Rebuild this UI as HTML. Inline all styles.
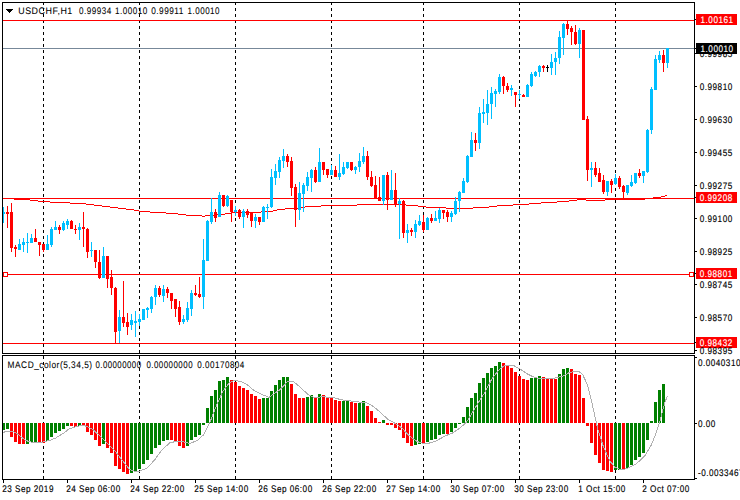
<!DOCTYPE html>
<html><head><meta charset="utf-8"><style>
html,body{margin:0;padding:0;background:#fff;}
svg{display:block;}
text{text-rendering:geometricPrecision;}
text{font-family:"Liberation Sans",sans-serif;}
</style></head><body>
<svg width="740" height="500" viewBox="0 0 740 500">
<rect x="0" y="0" width="740" height="500" fill="#fff"/>
<g shape-rendering="crispEdges">
<rect x="43" y="3" width="1" height="2" fill="#000"/>
<rect x="43" y="8" width="1" height="3" fill="#000"/>
<rect x="43" y="14" width="1" height="3" fill="#000"/>
<rect x="43" y="20" width="1" height="3" fill="#000"/>
<rect x="43" y="26" width="1" height="3" fill="#000"/>
<rect x="43" y="32" width="1" height="3" fill="#000"/>
<rect x="43" y="38" width="1" height="3" fill="#000"/>
<rect x="43" y="44" width="1" height="3" fill="#000"/>
<rect x="43" y="50" width="1" height="3" fill="#000"/>
<rect x="43" y="56" width="1" height="3" fill="#000"/>
<rect x="43" y="62" width="1" height="3" fill="#000"/>
<rect x="43" y="68" width="1" height="3" fill="#000"/>
<rect x="43" y="74" width="1" height="3" fill="#000"/>
<rect x="43" y="80" width="1" height="3" fill="#000"/>
<rect x="43" y="86" width="1" height="3" fill="#000"/>
<rect x="43" y="92" width="1" height="3" fill="#000"/>
<rect x="43" y="98" width="1" height="3" fill="#000"/>
<rect x="43" y="104" width="1" height="3" fill="#000"/>
<rect x="43" y="110" width="1" height="3" fill="#000"/>
<rect x="43" y="116" width="1" height="3" fill="#000"/>
<rect x="43" y="122" width="1" height="3" fill="#000"/>
<rect x="43" y="128" width="1" height="3" fill="#000"/>
<rect x="43" y="134" width="1" height="3" fill="#000"/>
<rect x="43" y="140" width="1" height="3" fill="#000"/>
<rect x="43" y="146" width="1" height="3" fill="#000"/>
<rect x="43" y="152" width="1" height="3" fill="#000"/>
<rect x="43" y="158" width="1" height="3" fill="#000"/>
<rect x="43" y="164" width="1" height="3" fill="#000"/>
<rect x="43" y="170" width="1" height="3" fill="#000"/>
<rect x="43" y="176" width="1" height="3" fill="#000"/>
<rect x="43" y="182" width="1" height="3" fill="#000"/>
<rect x="43" y="188" width="1" height="3" fill="#000"/>
<rect x="43" y="194" width="1" height="3" fill="#000"/>
<rect x="43" y="200" width="1" height="3" fill="#000"/>
<rect x="43" y="206" width="1" height="3" fill="#000"/>
<rect x="43" y="212" width="1" height="3" fill="#000"/>
<rect x="43" y="218" width="1" height="3" fill="#000"/>
<rect x="43" y="224" width="1" height="3" fill="#000"/>
<rect x="43" y="230" width="1" height="3" fill="#000"/>
<rect x="43" y="236" width="1" height="3" fill="#000"/>
<rect x="43" y="242" width="1" height="3" fill="#000"/>
<rect x="43" y="248" width="1" height="3" fill="#000"/>
<rect x="43" y="254" width="1" height="3" fill="#000"/>
<rect x="43" y="260" width="1" height="3" fill="#000"/>
<rect x="43" y="266" width="1" height="3" fill="#000"/>
<rect x="43" y="272" width="1" height="3" fill="#000"/>
<rect x="43" y="278" width="1" height="3" fill="#000"/>
<rect x="43" y="284" width="1" height="3" fill="#000"/>
<rect x="43" y="290" width="1" height="3" fill="#000"/>
<rect x="43" y="296" width="1" height="3" fill="#000"/>
<rect x="43" y="302" width="1" height="3" fill="#000"/>
<rect x="43" y="308" width="1" height="3" fill="#000"/>
<rect x="43" y="314" width="1" height="3" fill="#000"/>
<rect x="43" y="320" width="1" height="3" fill="#000"/>
<rect x="43" y="326" width="1" height="3" fill="#000"/>
<rect x="43" y="332" width="1" height="3" fill="#000"/>
<rect x="43" y="338" width="1" height="3" fill="#000"/>
<rect x="43" y="344" width="1" height="3" fill="#000"/>
<rect x="43" y="350" width="1" height="3" fill="#000"/>
<rect x="43" y="356" width="1" height="3" fill="#000"/>
<rect x="43" y="362" width="1" height="3" fill="#000"/>
<rect x="43" y="368" width="1" height="3" fill="#000"/>
<rect x="43" y="374" width="1" height="3" fill="#000"/>
<rect x="43" y="380" width="1" height="3" fill="#000"/>
<rect x="43" y="386" width="1" height="3" fill="#000"/>
<rect x="43" y="392" width="1" height="3" fill="#000"/>
<rect x="43" y="398" width="1" height="3" fill="#000"/>
<rect x="43" y="404" width="1" height="3" fill="#000"/>
<rect x="43" y="410" width="1" height="3" fill="#000"/>
<rect x="43" y="416" width="1" height="3" fill="#000"/>
<rect x="43" y="422" width="1" height="3" fill="#000"/>
<rect x="43" y="428" width="1" height="3" fill="#000"/>
<rect x="43" y="434" width="1" height="3" fill="#000"/>
<rect x="43" y="440" width="1" height="3" fill="#000"/>
<rect x="43" y="446" width="1" height="3" fill="#000"/>
<rect x="43" y="452" width="1" height="3" fill="#000"/>
<rect x="43" y="458" width="1" height="3" fill="#000"/>
<rect x="43" y="464" width="1" height="3" fill="#000"/>
<rect x="43" y="470" width="1" height="3" fill="#000"/>
<rect x="43" y="476" width="1" height="3" fill="#000"/>
<rect x="139" y="3" width="1" height="2" fill="#000"/>
<rect x="139" y="8" width="1" height="3" fill="#000"/>
<rect x="139" y="14" width="1" height="3" fill="#000"/>
<rect x="139" y="20" width="1" height="3" fill="#000"/>
<rect x="139" y="26" width="1" height="3" fill="#000"/>
<rect x="139" y="32" width="1" height="3" fill="#000"/>
<rect x="139" y="38" width="1" height="3" fill="#000"/>
<rect x="139" y="44" width="1" height="3" fill="#000"/>
<rect x="139" y="50" width="1" height="3" fill="#000"/>
<rect x="139" y="56" width="1" height="3" fill="#000"/>
<rect x="139" y="62" width="1" height="3" fill="#000"/>
<rect x="139" y="68" width="1" height="3" fill="#000"/>
<rect x="139" y="74" width="1" height="3" fill="#000"/>
<rect x="139" y="80" width="1" height="3" fill="#000"/>
<rect x="139" y="86" width="1" height="3" fill="#000"/>
<rect x="139" y="92" width="1" height="3" fill="#000"/>
<rect x="139" y="98" width="1" height="3" fill="#000"/>
<rect x="139" y="104" width="1" height="3" fill="#000"/>
<rect x="139" y="110" width="1" height="3" fill="#000"/>
<rect x="139" y="116" width="1" height="3" fill="#000"/>
<rect x="139" y="122" width="1" height="3" fill="#000"/>
<rect x="139" y="128" width="1" height="3" fill="#000"/>
<rect x="139" y="134" width="1" height="3" fill="#000"/>
<rect x="139" y="140" width="1" height="3" fill="#000"/>
<rect x="139" y="146" width="1" height="3" fill="#000"/>
<rect x="139" y="152" width="1" height="3" fill="#000"/>
<rect x="139" y="158" width="1" height="3" fill="#000"/>
<rect x="139" y="164" width="1" height="3" fill="#000"/>
<rect x="139" y="170" width="1" height="3" fill="#000"/>
<rect x="139" y="176" width="1" height="3" fill="#000"/>
<rect x="139" y="182" width="1" height="3" fill="#000"/>
<rect x="139" y="188" width="1" height="3" fill="#000"/>
<rect x="139" y="194" width="1" height="3" fill="#000"/>
<rect x="139" y="200" width="1" height="3" fill="#000"/>
<rect x="139" y="206" width="1" height="3" fill="#000"/>
<rect x="139" y="212" width="1" height="3" fill="#000"/>
<rect x="139" y="218" width="1" height="3" fill="#000"/>
<rect x="139" y="224" width="1" height="3" fill="#000"/>
<rect x="139" y="230" width="1" height="3" fill="#000"/>
<rect x="139" y="236" width="1" height="3" fill="#000"/>
<rect x="139" y="242" width="1" height="3" fill="#000"/>
<rect x="139" y="248" width="1" height="3" fill="#000"/>
<rect x="139" y="254" width="1" height="3" fill="#000"/>
<rect x="139" y="260" width="1" height="3" fill="#000"/>
<rect x="139" y="266" width="1" height="3" fill="#000"/>
<rect x="139" y="272" width="1" height="3" fill="#000"/>
<rect x="139" y="278" width="1" height="3" fill="#000"/>
<rect x="139" y="284" width="1" height="3" fill="#000"/>
<rect x="139" y="290" width="1" height="3" fill="#000"/>
<rect x="139" y="296" width="1" height="3" fill="#000"/>
<rect x="139" y="302" width="1" height="3" fill="#000"/>
<rect x="139" y="308" width="1" height="3" fill="#000"/>
<rect x="139" y="314" width="1" height="3" fill="#000"/>
<rect x="139" y="320" width="1" height="3" fill="#000"/>
<rect x="139" y="326" width="1" height="3" fill="#000"/>
<rect x="139" y="332" width="1" height="3" fill="#000"/>
<rect x="139" y="338" width="1" height="3" fill="#000"/>
<rect x="139" y="344" width="1" height="3" fill="#000"/>
<rect x="139" y="350" width="1" height="3" fill="#000"/>
<rect x="139" y="356" width="1" height="3" fill="#000"/>
<rect x="139" y="362" width="1" height="3" fill="#000"/>
<rect x="139" y="368" width="1" height="3" fill="#000"/>
<rect x="139" y="374" width="1" height="3" fill="#000"/>
<rect x="139" y="380" width="1" height="3" fill="#000"/>
<rect x="139" y="386" width="1" height="3" fill="#000"/>
<rect x="139" y="392" width="1" height="3" fill="#000"/>
<rect x="139" y="398" width="1" height="3" fill="#000"/>
<rect x="139" y="404" width="1" height="3" fill="#000"/>
<rect x="139" y="410" width="1" height="3" fill="#000"/>
<rect x="139" y="416" width="1" height="3" fill="#000"/>
<rect x="139" y="422" width="1" height="3" fill="#000"/>
<rect x="139" y="428" width="1" height="3" fill="#000"/>
<rect x="139" y="434" width="1" height="3" fill="#000"/>
<rect x="139" y="440" width="1" height="3" fill="#000"/>
<rect x="139" y="446" width="1" height="3" fill="#000"/>
<rect x="139" y="452" width="1" height="3" fill="#000"/>
<rect x="139" y="458" width="1" height="3" fill="#000"/>
<rect x="139" y="464" width="1" height="3" fill="#000"/>
<rect x="139" y="470" width="1" height="3" fill="#000"/>
<rect x="139" y="476" width="1" height="3" fill="#000"/>
<rect x="235" y="3" width="1" height="2" fill="#000"/>
<rect x="235" y="8" width="1" height="3" fill="#000"/>
<rect x="235" y="14" width="1" height="3" fill="#000"/>
<rect x="235" y="20" width="1" height="3" fill="#000"/>
<rect x="235" y="26" width="1" height="3" fill="#000"/>
<rect x="235" y="32" width="1" height="3" fill="#000"/>
<rect x="235" y="38" width="1" height="3" fill="#000"/>
<rect x="235" y="44" width="1" height="3" fill="#000"/>
<rect x="235" y="50" width="1" height="3" fill="#000"/>
<rect x="235" y="56" width="1" height="3" fill="#000"/>
<rect x="235" y="62" width="1" height="3" fill="#000"/>
<rect x="235" y="68" width="1" height="3" fill="#000"/>
<rect x="235" y="74" width="1" height="3" fill="#000"/>
<rect x="235" y="80" width="1" height="3" fill="#000"/>
<rect x="235" y="86" width="1" height="3" fill="#000"/>
<rect x="235" y="92" width="1" height="3" fill="#000"/>
<rect x="235" y="98" width="1" height="3" fill="#000"/>
<rect x="235" y="104" width="1" height="3" fill="#000"/>
<rect x="235" y="110" width="1" height="3" fill="#000"/>
<rect x="235" y="116" width="1" height="3" fill="#000"/>
<rect x="235" y="122" width="1" height="3" fill="#000"/>
<rect x="235" y="128" width="1" height="3" fill="#000"/>
<rect x="235" y="134" width="1" height="3" fill="#000"/>
<rect x="235" y="140" width="1" height="3" fill="#000"/>
<rect x="235" y="146" width="1" height="3" fill="#000"/>
<rect x="235" y="152" width="1" height="3" fill="#000"/>
<rect x="235" y="158" width="1" height="3" fill="#000"/>
<rect x="235" y="164" width="1" height="3" fill="#000"/>
<rect x="235" y="170" width="1" height="3" fill="#000"/>
<rect x="235" y="176" width="1" height="3" fill="#000"/>
<rect x="235" y="182" width="1" height="3" fill="#000"/>
<rect x="235" y="188" width="1" height="3" fill="#000"/>
<rect x="235" y="194" width="1" height="3" fill="#000"/>
<rect x="235" y="200" width="1" height="3" fill="#000"/>
<rect x="235" y="206" width="1" height="3" fill="#000"/>
<rect x="235" y="212" width="1" height="3" fill="#000"/>
<rect x="235" y="218" width="1" height="3" fill="#000"/>
<rect x="235" y="224" width="1" height="3" fill="#000"/>
<rect x="235" y="230" width="1" height="3" fill="#000"/>
<rect x="235" y="236" width="1" height="3" fill="#000"/>
<rect x="235" y="242" width="1" height="3" fill="#000"/>
<rect x="235" y="248" width="1" height="3" fill="#000"/>
<rect x="235" y="254" width="1" height="3" fill="#000"/>
<rect x="235" y="260" width="1" height="3" fill="#000"/>
<rect x="235" y="266" width="1" height="3" fill="#000"/>
<rect x="235" y="272" width="1" height="3" fill="#000"/>
<rect x="235" y="278" width="1" height="3" fill="#000"/>
<rect x="235" y="284" width="1" height="3" fill="#000"/>
<rect x="235" y="290" width="1" height="3" fill="#000"/>
<rect x="235" y="296" width="1" height="3" fill="#000"/>
<rect x="235" y="302" width="1" height="3" fill="#000"/>
<rect x="235" y="308" width="1" height="3" fill="#000"/>
<rect x="235" y="314" width="1" height="3" fill="#000"/>
<rect x="235" y="320" width="1" height="3" fill="#000"/>
<rect x="235" y="326" width="1" height="3" fill="#000"/>
<rect x="235" y="332" width="1" height="3" fill="#000"/>
<rect x="235" y="338" width="1" height="3" fill="#000"/>
<rect x="235" y="344" width="1" height="3" fill="#000"/>
<rect x="235" y="350" width="1" height="3" fill="#000"/>
<rect x="235" y="356" width="1" height="3" fill="#000"/>
<rect x="235" y="362" width="1" height="3" fill="#000"/>
<rect x="235" y="368" width="1" height="3" fill="#000"/>
<rect x="235" y="374" width="1" height="3" fill="#000"/>
<rect x="235" y="380" width="1" height="3" fill="#000"/>
<rect x="235" y="386" width="1" height="3" fill="#000"/>
<rect x="235" y="392" width="1" height="3" fill="#000"/>
<rect x="235" y="398" width="1" height="3" fill="#000"/>
<rect x="235" y="404" width="1" height="3" fill="#000"/>
<rect x="235" y="410" width="1" height="3" fill="#000"/>
<rect x="235" y="416" width="1" height="3" fill="#000"/>
<rect x="235" y="422" width="1" height="3" fill="#000"/>
<rect x="235" y="428" width="1" height="3" fill="#000"/>
<rect x="235" y="434" width="1" height="3" fill="#000"/>
<rect x="235" y="440" width="1" height="3" fill="#000"/>
<rect x="235" y="446" width="1" height="3" fill="#000"/>
<rect x="235" y="452" width="1" height="3" fill="#000"/>
<rect x="235" y="458" width="1" height="3" fill="#000"/>
<rect x="235" y="464" width="1" height="3" fill="#000"/>
<rect x="235" y="470" width="1" height="3" fill="#000"/>
<rect x="235" y="476" width="1" height="3" fill="#000"/>
<rect x="331" y="3" width="1" height="2" fill="#000"/>
<rect x="331" y="8" width="1" height="3" fill="#000"/>
<rect x="331" y="14" width="1" height="3" fill="#000"/>
<rect x="331" y="20" width="1" height="3" fill="#000"/>
<rect x="331" y="26" width="1" height="3" fill="#000"/>
<rect x="331" y="32" width="1" height="3" fill="#000"/>
<rect x="331" y="38" width="1" height="3" fill="#000"/>
<rect x="331" y="44" width="1" height="3" fill="#000"/>
<rect x="331" y="50" width="1" height="3" fill="#000"/>
<rect x="331" y="56" width="1" height="3" fill="#000"/>
<rect x="331" y="62" width="1" height="3" fill="#000"/>
<rect x="331" y="68" width="1" height="3" fill="#000"/>
<rect x="331" y="74" width="1" height="3" fill="#000"/>
<rect x="331" y="80" width="1" height="3" fill="#000"/>
<rect x="331" y="86" width="1" height="3" fill="#000"/>
<rect x="331" y="92" width="1" height="3" fill="#000"/>
<rect x="331" y="98" width="1" height="3" fill="#000"/>
<rect x="331" y="104" width="1" height="3" fill="#000"/>
<rect x="331" y="110" width="1" height="3" fill="#000"/>
<rect x="331" y="116" width="1" height="3" fill="#000"/>
<rect x="331" y="122" width="1" height="3" fill="#000"/>
<rect x="331" y="128" width="1" height="3" fill="#000"/>
<rect x="331" y="134" width="1" height="3" fill="#000"/>
<rect x="331" y="140" width="1" height="3" fill="#000"/>
<rect x="331" y="146" width="1" height="3" fill="#000"/>
<rect x="331" y="152" width="1" height="3" fill="#000"/>
<rect x="331" y="158" width="1" height="3" fill="#000"/>
<rect x="331" y="164" width="1" height="3" fill="#000"/>
<rect x="331" y="170" width="1" height="3" fill="#000"/>
<rect x="331" y="176" width="1" height="3" fill="#000"/>
<rect x="331" y="182" width="1" height="3" fill="#000"/>
<rect x="331" y="188" width="1" height="3" fill="#000"/>
<rect x="331" y="194" width="1" height="3" fill="#000"/>
<rect x="331" y="200" width="1" height="3" fill="#000"/>
<rect x="331" y="206" width="1" height="3" fill="#000"/>
<rect x="331" y="212" width="1" height="3" fill="#000"/>
<rect x="331" y="218" width="1" height="3" fill="#000"/>
<rect x="331" y="224" width="1" height="3" fill="#000"/>
<rect x="331" y="230" width="1" height="3" fill="#000"/>
<rect x="331" y="236" width="1" height="3" fill="#000"/>
<rect x="331" y="242" width="1" height="3" fill="#000"/>
<rect x="331" y="248" width="1" height="3" fill="#000"/>
<rect x="331" y="254" width="1" height="3" fill="#000"/>
<rect x="331" y="260" width="1" height="3" fill="#000"/>
<rect x="331" y="266" width="1" height="3" fill="#000"/>
<rect x="331" y="272" width="1" height="3" fill="#000"/>
<rect x="331" y="278" width="1" height="3" fill="#000"/>
<rect x="331" y="284" width="1" height="3" fill="#000"/>
<rect x="331" y="290" width="1" height="3" fill="#000"/>
<rect x="331" y="296" width="1" height="3" fill="#000"/>
<rect x="331" y="302" width="1" height="3" fill="#000"/>
<rect x="331" y="308" width="1" height="3" fill="#000"/>
<rect x="331" y="314" width="1" height="3" fill="#000"/>
<rect x="331" y="320" width="1" height="3" fill="#000"/>
<rect x="331" y="326" width="1" height="3" fill="#000"/>
<rect x="331" y="332" width="1" height="3" fill="#000"/>
<rect x="331" y="338" width="1" height="3" fill="#000"/>
<rect x="331" y="344" width="1" height="3" fill="#000"/>
<rect x="331" y="350" width="1" height="3" fill="#000"/>
<rect x="331" y="356" width="1" height="3" fill="#000"/>
<rect x="331" y="362" width="1" height="3" fill="#000"/>
<rect x="331" y="368" width="1" height="3" fill="#000"/>
<rect x="331" y="374" width="1" height="3" fill="#000"/>
<rect x="331" y="380" width="1" height="3" fill="#000"/>
<rect x="331" y="386" width="1" height="3" fill="#000"/>
<rect x="331" y="392" width="1" height="3" fill="#000"/>
<rect x="331" y="398" width="1" height="3" fill="#000"/>
<rect x="331" y="404" width="1" height="3" fill="#000"/>
<rect x="331" y="410" width="1" height="3" fill="#000"/>
<rect x="331" y="416" width="1" height="3" fill="#000"/>
<rect x="331" y="422" width="1" height="3" fill="#000"/>
<rect x="331" y="428" width="1" height="3" fill="#000"/>
<rect x="331" y="434" width="1" height="3" fill="#000"/>
<rect x="331" y="440" width="1" height="3" fill="#000"/>
<rect x="331" y="446" width="1" height="3" fill="#000"/>
<rect x="331" y="452" width="1" height="3" fill="#000"/>
<rect x="331" y="458" width="1" height="3" fill="#000"/>
<rect x="331" y="464" width="1" height="3" fill="#000"/>
<rect x="331" y="470" width="1" height="3" fill="#000"/>
<rect x="331" y="476" width="1" height="3" fill="#000"/>
<rect x="423" y="3" width="1" height="2" fill="#000"/>
<rect x="423" y="8" width="1" height="3" fill="#000"/>
<rect x="423" y="14" width="1" height="3" fill="#000"/>
<rect x="423" y="20" width="1" height="3" fill="#000"/>
<rect x="423" y="26" width="1" height="3" fill="#000"/>
<rect x="423" y="32" width="1" height="3" fill="#000"/>
<rect x="423" y="38" width="1" height="3" fill="#000"/>
<rect x="423" y="44" width="1" height="3" fill="#000"/>
<rect x="423" y="50" width="1" height="3" fill="#000"/>
<rect x="423" y="56" width="1" height="3" fill="#000"/>
<rect x="423" y="62" width="1" height="3" fill="#000"/>
<rect x="423" y="68" width="1" height="3" fill="#000"/>
<rect x="423" y="74" width="1" height="3" fill="#000"/>
<rect x="423" y="80" width="1" height="3" fill="#000"/>
<rect x="423" y="86" width="1" height="3" fill="#000"/>
<rect x="423" y="92" width="1" height="3" fill="#000"/>
<rect x="423" y="98" width="1" height="3" fill="#000"/>
<rect x="423" y="104" width="1" height="3" fill="#000"/>
<rect x="423" y="110" width="1" height="3" fill="#000"/>
<rect x="423" y="116" width="1" height="3" fill="#000"/>
<rect x="423" y="122" width="1" height="3" fill="#000"/>
<rect x="423" y="128" width="1" height="3" fill="#000"/>
<rect x="423" y="134" width="1" height="3" fill="#000"/>
<rect x="423" y="140" width="1" height="3" fill="#000"/>
<rect x="423" y="146" width="1" height="3" fill="#000"/>
<rect x="423" y="152" width="1" height="3" fill="#000"/>
<rect x="423" y="158" width="1" height="3" fill="#000"/>
<rect x="423" y="164" width="1" height="3" fill="#000"/>
<rect x="423" y="170" width="1" height="3" fill="#000"/>
<rect x="423" y="176" width="1" height="3" fill="#000"/>
<rect x="423" y="182" width="1" height="3" fill="#000"/>
<rect x="423" y="188" width="1" height="3" fill="#000"/>
<rect x="423" y="194" width="1" height="3" fill="#000"/>
<rect x="423" y="200" width="1" height="3" fill="#000"/>
<rect x="423" y="206" width="1" height="3" fill="#000"/>
<rect x="423" y="212" width="1" height="3" fill="#000"/>
<rect x="423" y="218" width="1" height="3" fill="#000"/>
<rect x="423" y="224" width="1" height="3" fill="#000"/>
<rect x="423" y="230" width="1" height="3" fill="#000"/>
<rect x="423" y="236" width="1" height="3" fill="#000"/>
<rect x="423" y="242" width="1" height="3" fill="#000"/>
<rect x="423" y="248" width="1" height="3" fill="#000"/>
<rect x="423" y="254" width="1" height="3" fill="#000"/>
<rect x="423" y="260" width="1" height="3" fill="#000"/>
<rect x="423" y="266" width="1" height="3" fill="#000"/>
<rect x="423" y="272" width="1" height="3" fill="#000"/>
<rect x="423" y="278" width="1" height="3" fill="#000"/>
<rect x="423" y="284" width="1" height="3" fill="#000"/>
<rect x="423" y="290" width="1" height="3" fill="#000"/>
<rect x="423" y="296" width="1" height="3" fill="#000"/>
<rect x="423" y="302" width="1" height="3" fill="#000"/>
<rect x="423" y="308" width="1" height="3" fill="#000"/>
<rect x="423" y="314" width="1" height="3" fill="#000"/>
<rect x="423" y="320" width="1" height="3" fill="#000"/>
<rect x="423" y="326" width="1" height="3" fill="#000"/>
<rect x="423" y="332" width="1" height="3" fill="#000"/>
<rect x="423" y="338" width="1" height="3" fill="#000"/>
<rect x="423" y="344" width="1" height="3" fill="#000"/>
<rect x="423" y="350" width="1" height="3" fill="#000"/>
<rect x="423" y="356" width="1" height="3" fill="#000"/>
<rect x="423" y="362" width="1" height="3" fill="#000"/>
<rect x="423" y="368" width="1" height="3" fill="#000"/>
<rect x="423" y="374" width="1" height="3" fill="#000"/>
<rect x="423" y="380" width="1" height="3" fill="#000"/>
<rect x="423" y="386" width="1" height="3" fill="#000"/>
<rect x="423" y="392" width="1" height="3" fill="#000"/>
<rect x="423" y="398" width="1" height="3" fill="#000"/>
<rect x="423" y="404" width="1" height="3" fill="#000"/>
<rect x="423" y="410" width="1" height="3" fill="#000"/>
<rect x="423" y="416" width="1" height="3" fill="#000"/>
<rect x="423" y="422" width="1" height="3" fill="#000"/>
<rect x="423" y="428" width="1" height="3" fill="#000"/>
<rect x="423" y="434" width="1" height="3" fill="#000"/>
<rect x="423" y="440" width="1" height="3" fill="#000"/>
<rect x="423" y="446" width="1" height="3" fill="#000"/>
<rect x="423" y="452" width="1" height="3" fill="#000"/>
<rect x="423" y="458" width="1" height="3" fill="#000"/>
<rect x="423" y="464" width="1" height="3" fill="#000"/>
<rect x="423" y="470" width="1" height="3" fill="#000"/>
<rect x="423" y="476" width="1" height="3" fill="#000"/>
<rect x="519" y="3" width="1" height="2" fill="#000"/>
<rect x="519" y="8" width="1" height="3" fill="#000"/>
<rect x="519" y="14" width="1" height="3" fill="#000"/>
<rect x="519" y="20" width="1" height="3" fill="#000"/>
<rect x="519" y="26" width="1" height="3" fill="#000"/>
<rect x="519" y="32" width="1" height="3" fill="#000"/>
<rect x="519" y="38" width="1" height="3" fill="#000"/>
<rect x="519" y="44" width="1" height="3" fill="#000"/>
<rect x="519" y="50" width="1" height="3" fill="#000"/>
<rect x="519" y="56" width="1" height="3" fill="#000"/>
<rect x="519" y="62" width="1" height="3" fill="#000"/>
<rect x="519" y="68" width="1" height="3" fill="#000"/>
<rect x="519" y="74" width="1" height="3" fill="#000"/>
<rect x="519" y="80" width="1" height="3" fill="#000"/>
<rect x="519" y="86" width="1" height="3" fill="#000"/>
<rect x="519" y="92" width="1" height="3" fill="#000"/>
<rect x="519" y="98" width="1" height="3" fill="#000"/>
<rect x="519" y="104" width="1" height="3" fill="#000"/>
<rect x="519" y="110" width="1" height="3" fill="#000"/>
<rect x="519" y="116" width="1" height="3" fill="#000"/>
<rect x="519" y="122" width="1" height="3" fill="#000"/>
<rect x="519" y="128" width="1" height="3" fill="#000"/>
<rect x="519" y="134" width="1" height="3" fill="#000"/>
<rect x="519" y="140" width="1" height="3" fill="#000"/>
<rect x="519" y="146" width="1" height="3" fill="#000"/>
<rect x="519" y="152" width="1" height="3" fill="#000"/>
<rect x="519" y="158" width="1" height="3" fill="#000"/>
<rect x="519" y="164" width="1" height="3" fill="#000"/>
<rect x="519" y="170" width="1" height="3" fill="#000"/>
<rect x="519" y="176" width="1" height="3" fill="#000"/>
<rect x="519" y="182" width="1" height="3" fill="#000"/>
<rect x="519" y="188" width="1" height="3" fill="#000"/>
<rect x="519" y="194" width="1" height="3" fill="#000"/>
<rect x="519" y="200" width="1" height="3" fill="#000"/>
<rect x="519" y="206" width="1" height="3" fill="#000"/>
<rect x="519" y="212" width="1" height="3" fill="#000"/>
<rect x="519" y="218" width="1" height="3" fill="#000"/>
<rect x="519" y="224" width="1" height="3" fill="#000"/>
<rect x="519" y="230" width="1" height="3" fill="#000"/>
<rect x="519" y="236" width="1" height="3" fill="#000"/>
<rect x="519" y="242" width="1" height="3" fill="#000"/>
<rect x="519" y="248" width="1" height="3" fill="#000"/>
<rect x="519" y="254" width="1" height="3" fill="#000"/>
<rect x="519" y="260" width="1" height="3" fill="#000"/>
<rect x="519" y="266" width="1" height="3" fill="#000"/>
<rect x="519" y="272" width="1" height="3" fill="#000"/>
<rect x="519" y="278" width="1" height="3" fill="#000"/>
<rect x="519" y="284" width="1" height="3" fill="#000"/>
<rect x="519" y="290" width="1" height="3" fill="#000"/>
<rect x="519" y="296" width="1" height="3" fill="#000"/>
<rect x="519" y="302" width="1" height="3" fill="#000"/>
<rect x="519" y="308" width="1" height="3" fill="#000"/>
<rect x="519" y="314" width="1" height="3" fill="#000"/>
<rect x="519" y="320" width="1" height="3" fill="#000"/>
<rect x="519" y="326" width="1" height="3" fill="#000"/>
<rect x="519" y="332" width="1" height="3" fill="#000"/>
<rect x="519" y="338" width="1" height="3" fill="#000"/>
<rect x="519" y="344" width="1" height="3" fill="#000"/>
<rect x="519" y="350" width="1" height="3" fill="#000"/>
<rect x="519" y="356" width="1" height="3" fill="#000"/>
<rect x="519" y="362" width="1" height="3" fill="#000"/>
<rect x="519" y="368" width="1" height="3" fill="#000"/>
<rect x="519" y="374" width="1" height="3" fill="#000"/>
<rect x="519" y="380" width="1" height="3" fill="#000"/>
<rect x="519" y="386" width="1" height="3" fill="#000"/>
<rect x="519" y="392" width="1" height="3" fill="#000"/>
<rect x="519" y="398" width="1" height="3" fill="#000"/>
<rect x="519" y="404" width="1" height="3" fill="#000"/>
<rect x="519" y="410" width="1" height="3" fill="#000"/>
<rect x="519" y="416" width="1" height="3" fill="#000"/>
<rect x="519" y="422" width="1" height="3" fill="#000"/>
<rect x="519" y="428" width="1" height="3" fill="#000"/>
<rect x="519" y="434" width="1" height="3" fill="#000"/>
<rect x="519" y="440" width="1" height="3" fill="#000"/>
<rect x="519" y="446" width="1" height="3" fill="#000"/>
<rect x="519" y="452" width="1" height="3" fill="#000"/>
<rect x="519" y="458" width="1" height="3" fill="#000"/>
<rect x="519" y="464" width="1" height="3" fill="#000"/>
<rect x="519" y="470" width="1" height="3" fill="#000"/>
<rect x="519" y="476" width="1" height="3" fill="#000"/>
<rect x="615" y="3" width="1" height="2" fill="#000"/>
<rect x="615" y="8" width="1" height="3" fill="#000"/>
<rect x="615" y="14" width="1" height="3" fill="#000"/>
<rect x="615" y="20" width="1" height="3" fill="#000"/>
<rect x="615" y="26" width="1" height="3" fill="#000"/>
<rect x="615" y="32" width="1" height="3" fill="#000"/>
<rect x="615" y="38" width="1" height="3" fill="#000"/>
<rect x="615" y="44" width="1" height="3" fill="#000"/>
<rect x="615" y="50" width="1" height="3" fill="#000"/>
<rect x="615" y="56" width="1" height="3" fill="#000"/>
<rect x="615" y="62" width="1" height="3" fill="#000"/>
<rect x="615" y="68" width="1" height="3" fill="#000"/>
<rect x="615" y="74" width="1" height="3" fill="#000"/>
<rect x="615" y="80" width="1" height="3" fill="#000"/>
<rect x="615" y="86" width="1" height="3" fill="#000"/>
<rect x="615" y="92" width="1" height="3" fill="#000"/>
<rect x="615" y="98" width="1" height="3" fill="#000"/>
<rect x="615" y="104" width="1" height="3" fill="#000"/>
<rect x="615" y="110" width="1" height="3" fill="#000"/>
<rect x="615" y="116" width="1" height="3" fill="#000"/>
<rect x="615" y="122" width="1" height="3" fill="#000"/>
<rect x="615" y="128" width="1" height="3" fill="#000"/>
<rect x="615" y="134" width="1" height="3" fill="#000"/>
<rect x="615" y="140" width="1" height="3" fill="#000"/>
<rect x="615" y="146" width="1" height="3" fill="#000"/>
<rect x="615" y="152" width="1" height="3" fill="#000"/>
<rect x="615" y="158" width="1" height="3" fill="#000"/>
<rect x="615" y="164" width="1" height="3" fill="#000"/>
<rect x="615" y="170" width="1" height="3" fill="#000"/>
<rect x="615" y="176" width="1" height="3" fill="#000"/>
<rect x="615" y="182" width="1" height="3" fill="#000"/>
<rect x="615" y="188" width="1" height="3" fill="#000"/>
<rect x="615" y="194" width="1" height="3" fill="#000"/>
<rect x="615" y="200" width="1" height="3" fill="#000"/>
<rect x="615" y="206" width="1" height="3" fill="#000"/>
<rect x="615" y="212" width="1" height="3" fill="#000"/>
<rect x="615" y="218" width="1" height="3" fill="#000"/>
<rect x="615" y="224" width="1" height="3" fill="#000"/>
<rect x="615" y="230" width="1" height="3" fill="#000"/>
<rect x="615" y="236" width="1" height="3" fill="#000"/>
<rect x="615" y="242" width="1" height="3" fill="#000"/>
<rect x="615" y="248" width="1" height="3" fill="#000"/>
<rect x="615" y="254" width="1" height="3" fill="#000"/>
<rect x="615" y="260" width="1" height="3" fill="#000"/>
<rect x="615" y="266" width="1" height="3" fill="#000"/>
<rect x="615" y="272" width="1" height="3" fill="#000"/>
<rect x="615" y="278" width="1" height="3" fill="#000"/>
<rect x="615" y="284" width="1" height="3" fill="#000"/>
<rect x="615" y="290" width="1" height="3" fill="#000"/>
<rect x="615" y="296" width="1" height="3" fill="#000"/>
<rect x="615" y="302" width="1" height="3" fill="#000"/>
<rect x="615" y="308" width="1" height="3" fill="#000"/>
<rect x="615" y="314" width="1" height="3" fill="#000"/>
<rect x="615" y="320" width="1" height="3" fill="#000"/>
<rect x="615" y="326" width="1" height="3" fill="#000"/>
<rect x="615" y="332" width="1" height="3" fill="#000"/>
<rect x="615" y="338" width="1" height="3" fill="#000"/>
<rect x="615" y="344" width="1" height="3" fill="#000"/>
<rect x="615" y="350" width="1" height="3" fill="#000"/>
<rect x="615" y="356" width="1" height="3" fill="#000"/>
<rect x="615" y="362" width="1" height="3" fill="#000"/>
<rect x="615" y="368" width="1" height="3" fill="#000"/>
<rect x="615" y="374" width="1" height="3" fill="#000"/>
<rect x="615" y="380" width="1" height="3" fill="#000"/>
<rect x="615" y="386" width="1" height="3" fill="#000"/>
<rect x="615" y="392" width="1" height="3" fill="#000"/>
<rect x="615" y="398" width="1" height="3" fill="#000"/>
<rect x="615" y="404" width="1" height="3" fill="#000"/>
<rect x="615" y="410" width="1" height="3" fill="#000"/>
<rect x="615" y="416" width="1" height="3" fill="#000"/>
<rect x="615" y="422" width="1" height="3" fill="#000"/>
<rect x="615" y="428" width="1" height="3" fill="#000"/>
<rect x="615" y="434" width="1" height="3" fill="#000"/>
<rect x="615" y="440" width="1" height="3" fill="#000"/>
<rect x="615" y="446" width="1" height="3" fill="#000"/>
<rect x="615" y="452" width="1" height="3" fill="#000"/>
<rect x="615" y="458" width="1" height="3" fill="#000"/>
<rect x="615" y="464" width="1" height="3" fill="#000"/>
<rect x="615" y="470" width="1" height="3" fill="#000"/>
<rect x="615" y="476" width="1" height="3" fill="#000"/>
<rect x="3" y="20" width="691" height="1" fill="#FF0000"/>
<rect x="3" y="198" width="691" height="1" fill="#FF0000"/>
<rect x="3" y="274" width="691" height="1" fill="#FF0000"/>
<rect x="3" y="343" width="691" height="1" fill="#FF0000"/>
<rect x="3" y="48" width="691" height="1" fill="#778899"/>
<rect x="3" y="198" width="11" height="1" fill="#FF0000"/>
<rect x="14" y="199" width="16" height="1" fill="#FF0000"/>
<rect x="30" y="200" width="8" height="1" fill="#FF0000"/>
<rect x="38" y="201" width="12" height="1" fill="#FF0000"/>
<rect x="50" y="202" width="20" height="1" fill="#FF0000"/>
<rect x="70" y="203" width="16" height="1" fill="#FF0000"/>
<rect x="86" y="204" width="8" height="1" fill="#FF0000"/>
<rect x="94" y="205" width="8" height="1" fill="#FF0000"/>
<rect x="102" y="206" width="8" height="1" fill="#FF0000"/>
<rect x="110" y="207" width="8" height="1" fill="#FF0000"/>
<rect x="118" y="208" width="8" height="1" fill="#FF0000"/>
<rect x="126" y="209" width="8" height="1" fill="#FF0000"/>
<rect x="134" y="210" width="5" height="1" fill="#FF0000"/>
<rect x="139" y="211" width="11" height="1" fill="#FF0000"/>
<rect x="150" y="212" width="16" height="1" fill="#FF0000"/>
<rect x="166" y="213" width="12" height="1" fill="#FF0000"/>
<rect x="178" y="214" width="8" height="1" fill="#FF0000"/>
<rect x="186" y="215" width="16" height="1" fill="#FF0000"/>
<rect x="202" y="216" width="3" height="1" fill="#FF0000"/>
<rect x="205" y="215" width="10" height="1" fill="#FF0000"/>
<rect x="215" y="214" width="10" height="1" fill="#FF0000"/>
<rect x="225" y="213" width="7" height="1" fill="#FF0000"/>
<rect x="232" y="212" width="29" height="1" fill="#FF0000"/>
<rect x="261" y="211" width="12" height="1" fill="#FF0000"/>
<rect x="273" y="210" width="4" height="1" fill="#FF0000"/>
<rect x="277" y="209" width="8" height="1" fill="#FF0000"/>
<rect x="285" y="208" width="13" height="1" fill="#FF0000"/>
<rect x="298" y="207" width="7" height="1" fill="#FF0000"/>
<rect x="305" y="206" width="16" height="1" fill="#FF0000"/>
<rect x="321" y="205" width="36" height="1" fill="#FF0000"/>
<rect x="357" y="204" width="49" height="1" fill="#FF0000"/>
<rect x="406" y="205" width="12" height="1" fill="#FF0000"/>
<rect x="418" y="206" width="8" height="1" fill="#FF0000"/>
<rect x="426" y="207" width="20" height="1" fill="#FF0000"/>
<rect x="446" y="208" width="27" height="1" fill="#FF0000"/>
<rect x="473" y="207" width="16" height="1" fill="#FF0000"/>
<rect x="489" y="206" width="8" height="1" fill="#FF0000"/>
<rect x="497" y="205" width="16" height="1" fill="#FF0000"/>
<rect x="513" y="204" width="16" height="1" fill="#FF0000"/>
<rect x="529" y="203" width="12" height="1" fill="#FF0000"/>
<rect x="541" y="202" width="16" height="1" fill="#FF0000"/>
<rect x="557" y="201" width="12" height="1" fill="#FF0000"/>
<rect x="569" y="200" width="8" height="1" fill="#FF0000"/>
<rect x="577" y="199" width="9" height="1" fill="#FF0000"/>
<rect x="586" y="200" width="19" height="1" fill="#FF0000"/>
<rect x="605" y="199" width="40" height="1" fill="#FF0000"/>
<rect x="645" y="198" width="8" height="1" fill="#FF0000"/>
<rect x="653" y="197" width="8" height="1" fill="#FF0000"/>
<rect x="661" y="196" width="4" height="1" fill="#FF0000"/>
<rect x="665" y="195" width="2" height="1" fill="#FF0000"/>
<rect x="3.5" y="272.5" width="4" height="4" fill="#fff" stroke="#FF0000" stroke-width="1"/>
<rect x="689.5" y="272.5" width="4" height="4" fill="#fff" stroke="#FF0000" stroke-width="1"/>
<rect x="3" y="207" width="1" height="16" fill="#00BFFF"/>
<rect x="2" y="212" width="3" height="2" fill="#00BFFF"/>
<rect x="7" y="206" width="1" height="22" fill="#FF0000"/>
<rect x="6" y="212" width="3" height="2" fill="#FF0000"/>
<rect x="11" y="203" width="1" height="49" fill="#FF0000"/>
<rect x="10" y="212" width="3" height="36" fill="#FF0000"/>
<rect x="15" y="245" width="1" height="12" fill="#FF0000"/>
<rect x="14" y="247" width="3" height="2" fill="#FF0000"/>
<rect x="19" y="239" width="1" height="11" fill="#00BFFF"/>
<rect x="18" y="244" width="3" height="6" fill="#00BFFF"/>
<rect x="23" y="238" width="1" height="14" fill="#00BFFF"/>
<rect x="22" y="242" width="3" height="3" fill="#00BFFF"/>
<rect x="27" y="233" width="1" height="20" fill="#00BFFF"/>
<rect x="26" y="242" width="3" height="1" fill="#00BFFF"/>
<rect x="31" y="234" width="1" height="9" fill="#00BFFF"/>
<rect x="30" y="238" width="3" height="5" fill="#00BFFF"/>
<rect x="35" y="229" width="1" height="13" fill="#FF0000"/>
<rect x="34" y="238" width="3" height="4" fill="#FF0000"/>
<rect x="39" y="242" width="1" height="14" fill="#FF0000"/>
<rect x="38" y="242" width="3" height="3" fill="#FF0000"/>
<rect x="43" y="244" width="1" height="8" fill="#FF0000"/>
<rect x="42" y="244" width="3" height="6" fill="#FF0000"/>
<rect x="47" y="235" width="1" height="15" fill="#00BFFF"/>
<rect x="46" y="244" width="3" height="6" fill="#00BFFF"/>
<rect x="51" y="227" width="1" height="20" fill="#00BFFF"/>
<rect x="50" y="229" width="3" height="16" fill="#00BFFF"/>
<rect x="55" y="221" width="1" height="9" fill="#00BFFF"/>
<rect x="54" y="227" width="3" height="3" fill="#00BFFF"/>
<rect x="59" y="225" width="1" height="9" fill="#FF0000"/>
<rect x="58" y="227" width="3" height="3" fill="#FF0000"/>
<rect x="63" y="221" width="1" height="10" fill="#00BFFF"/>
<rect x="62" y="223" width="3" height="7" fill="#00BFFF"/>
<rect x="67" y="219" width="1" height="10" fill="#00BFFF"/>
<rect x="66" y="221" width="3" height="4" fill="#00BFFF"/>
<rect x="71" y="220" width="1" height="9" fill="#FF0000"/>
<rect x="70" y="221" width="3" height="8" fill="#FF0000"/>
<rect x="75" y="225" width="1" height="9" fill="#FF0000"/>
<rect x="74" y="229" width="3" height="1" fill="#FF0000"/>
<rect x="79" y="223" width="1" height="17" fill="#00BFFF"/>
<rect x="78" y="227" width="3" height="3" fill="#00BFFF"/>
<rect x="83" y="212" width="1" height="35" fill="#FF0000"/>
<rect x="82" y="227" width="3" height="2" fill="#FF0000"/>
<rect x="87" y="228" width="1" height="30" fill="#FF0000"/>
<rect x="86" y="229" width="3" height="23" fill="#FF0000"/>
<rect x="91" y="242" width="1" height="15" fill="#00BFFF"/>
<rect x="90" y="250" width="3" height="1" fill="#00BFFF"/>
<rect x="95" y="250" width="1" height="18" fill="#FF0000"/>
<rect x="94" y="250" width="3" height="12" fill="#FF0000"/>
<rect x="99" y="250" width="1" height="29" fill="#FF0000"/>
<rect x="98" y="262" width="3" height="16" fill="#FF0000"/>
<rect x="103" y="247" width="1" height="31" fill="#00BFFF"/>
<rect x="102" y="256" width="3" height="22" fill="#00BFFF"/>
<rect x="107" y="256" width="1" height="32" fill="#FF0000"/>
<rect x="106" y="256" width="3" height="23" fill="#FF0000"/>
<rect x="111" y="270" width="1" height="25" fill="#FF0000"/>
<rect x="110" y="277" width="3" height="11" fill="#FF0000"/>
<rect x="115" y="287" width="1" height="56" fill="#FF0000"/>
<rect x="114" y="288" width="3" height="44" fill="#FF0000"/>
<rect x="119" y="310" width="1" height="33" fill="#00BFFF"/>
<rect x="118" y="317" width="3" height="14" fill="#00BFFF"/>
<rect x="123" y="281" width="1" height="46" fill="#FF0000"/>
<rect x="122" y="317" width="3" height="6" fill="#FF0000"/>
<rect x="127" y="313" width="1" height="22" fill="#FF0000"/>
<rect x="126" y="322" width="3" height="5" fill="#FF0000"/>
<rect x="131" y="314" width="1" height="16" fill="#00BFFF"/>
<rect x="130" y="320" width="3" height="5" fill="#00BFFF"/>
<rect x="135" y="311" width="1" height="26" fill="#00BFFF"/>
<rect x="134" y="321" width="3" height="2" fill="#00BFFF"/>
<rect x="139" y="314" width="1" height="12" fill="#00BFFF"/>
<rect x="138" y="319" width="3" height="3" fill="#00BFFF"/>
<rect x="143" y="309" width="1" height="11" fill="#00BFFF"/>
<rect x="142" y="309" width="3" height="11" fill="#00BFFF"/>
<rect x="147" y="307" width="1" height="11" fill="#00BFFF"/>
<rect x="146" y="308" width="3" height="2" fill="#00BFFF"/>
<rect x="151" y="296" width="1" height="17" fill="#00BFFF"/>
<rect x="150" y="297" width="3" height="12" fill="#00BFFF"/>
<rect x="155" y="285" width="1" height="20" fill="#00BFFF"/>
<rect x="154" y="288" width="3" height="9" fill="#00BFFF"/>
<rect x="159" y="286" width="1" height="11" fill="#FF0000"/>
<rect x="158" y="288" width="3" height="7" fill="#FF0000"/>
<rect x="163" y="285" width="1" height="17" fill="#00BFFF"/>
<rect x="162" y="289" width="3" height="7" fill="#00BFFF"/>
<rect x="167" y="287" width="1" height="11" fill="#FF0000"/>
<rect x="166" y="289" width="3" height="4" fill="#FF0000"/>
<rect x="171" y="293" width="1" height="16" fill="#FF0000"/>
<rect x="170" y="293" width="3" height="8" fill="#FF0000"/>
<rect x="175" y="299" width="1" height="18" fill="#FF0000"/>
<rect x="174" y="299" width="3" height="10" fill="#FF0000"/>
<rect x="179" y="301" width="1" height="24" fill="#FF0000"/>
<rect x="178" y="307" width="3" height="15" fill="#FF0000"/>
<rect x="183" y="315" width="1" height="9" fill="#00BFFF"/>
<rect x="182" y="319" width="3" height="3" fill="#00BFFF"/>
<rect x="187" y="302" width="1" height="20" fill="#00BFFF"/>
<rect x="186" y="308" width="3" height="12" fill="#00BFFF"/>
<rect x="191" y="290" width="1" height="26" fill="#00BFFF"/>
<rect x="190" y="293" width="3" height="16" fill="#00BFFF"/>
<rect x="195" y="285" width="1" height="11" fill="#FF0000"/>
<rect x="194" y="293" width="3" height="2" fill="#FF0000"/>
<rect x="199" y="277" width="1" height="21" fill="#FF0000"/>
<rect x="198" y="294" width="3" height="3" fill="#FF0000"/>
<rect x="203" y="239" width="1" height="70" fill="#00BFFF"/>
<rect x="202" y="260" width="3" height="37" fill="#00BFFF"/>
<rect x="207" y="220" width="1" height="41" fill="#00BFFF"/>
<rect x="206" y="221" width="3" height="40" fill="#00BFFF"/>
<rect x="211" y="198" width="1" height="26" fill="#00BFFF"/>
<rect x="210" y="212" width="3" height="10" fill="#00BFFF"/>
<rect x="215" y="209" width="1" height="13" fill="#FF0000"/>
<rect x="214" y="212" width="3" height="6" fill="#FF0000"/>
<rect x="219" y="192" width="1" height="25" fill="#00BFFF"/>
<rect x="218" y="195" width="3" height="22" fill="#00BFFF"/>
<rect x="223" y="195" width="1" height="12" fill="#FF0000"/>
<rect x="222" y="195" width="3" height="11" fill="#FF0000"/>
<rect x="227" y="195" width="1" height="12" fill="#00BFFF"/>
<rect x="226" y="196" width="3" height="10" fill="#00BFFF"/>
<rect x="231" y="200" width="1" height="22" fill="#FF0000"/>
<rect x="230" y="200" width="3" height="12" fill="#FF0000"/>
<rect x="235" y="206" width="1" height="10" fill="#00BFFF"/>
<rect x="234" y="210" width="3" height="2" fill="#00BFFF"/>
<rect x="239" y="209" width="1" height="10" fill="#FF0000"/>
<rect x="238" y="210" width="3" height="7" fill="#FF0000"/>
<rect x="243" y="209" width="1" height="19" fill="#00BFFF"/>
<rect x="242" y="211" width="3" height="6" fill="#00BFFF"/>
<rect x="247" y="209" width="1" height="9" fill="#FF0000"/>
<rect x="246" y="211" width="3" height="4" fill="#FF0000"/>
<rect x="251" y="212" width="1" height="15" fill="#FF0000"/>
<rect x="250" y="212" width="3" height="9" fill="#FF0000"/>
<rect x="255" y="214" width="1" height="14" fill="#00BFFF"/>
<rect x="254" y="217" width="3" height="4" fill="#00BFFF"/>
<rect x="259" y="217" width="1" height="8" fill="#FF0000"/>
<rect x="258" y="217" width="3" height="5" fill="#FF0000"/>
<rect x="263" y="206" width="1" height="16" fill="#00BFFF"/>
<rect x="262" y="207" width="3" height="15" fill="#00BFFF"/>
<rect x="267" y="204" width="1" height="15" fill="#00BFFF"/>
<rect x="266" y="207" width="3" height="1" fill="#00BFFF"/>
<rect x="271" y="169" width="1" height="39" fill="#00BFFF"/>
<rect x="270" y="177" width="3" height="30" fill="#00BFFF"/>
<rect x="275" y="164" width="1" height="21" fill="#00BFFF"/>
<rect x="274" y="171" width="3" height="7" fill="#00BFFF"/>
<rect x="279" y="157" width="1" height="21" fill="#00BFFF"/>
<rect x="278" y="160" width="3" height="12" fill="#00BFFF"/>
<rect x="283" y="149" width="1" height="19" fill="#00BFFF"/>
<rect x="282" y="156" width="3" height="5" fill="#00BFFF"/>
<rect x="287" y="154" width="1" height="13" fill="#FF0000"/>
<rect x="286" y="156" width="3" height="6" fill="#FF0000"/>
<rect x="291" y="157" width="1" height="39" fill="#FF0000"/>
<rect x="290" y="161" width="3" height="27" fill="#FF0000"/>
<rect x="295" y="184" width="1" height="43" fill="#FF0000"/>
<rect x="294" y="187" width="3" height="23" fill="#FF0000"/>
<rect x="299" y="182" width="1" height="38" fill="#00BFFF"/>
<rect x="298" y="193" width="3" height="17" fill="#00BFFF"/>
<rect x="303" y="183" width="1" height="29" fill="#00BFFF"/>
<rect x="302" y="185" width="3" height="9" fill="#00BFFF"/>
<rect x="307" y="172" width="1" height="19" fill="#00BFFF"/>
<rect x="306" y="177" width="3" height="9" fill="#00BFFF"/>
<rect x="311" y="169" width="1" height="23" fill="#00BFFF"/>
<rect x="310" y="170" width="3" height="8" fill="#00BFFF"/>
<rect x="315" y="167" width="1" height="16" fill="#FF0000"/>
<rect x="314" y="170" width="3" height="12" fill="#FF0000"/>
<rect x="319" y="148" width="1" height="34" fill="#00BFFF"/>
<rect x="318" y="162" width="3" height="20" fill="#00BFFF"/>
<rect x="323" y="162" width="1" height="13" fill="#FF0000"/>
<rect x="322" y="162" width="3" height="8" fill="#FF0000"/>
<rect x="327" y="169" width="1" height="9" fill="#FF0000"/>
<rect x="326" y="169" width="3" height="6" fill="#FF0000"/>
<rect x="331" y="165" width="1" height="10" fill="#00BFFF"/>
<rect x="330" y="170" width="3" height="5" fill="#00BFFF"/>
<rect x="335" y="166" width="1" height="11" fill="#FF0000"/>
<rect x="334" y="170" width="3" height="7" fill="#FF0000"/>
<rect x="339" y="154" width="1" height="26" fill="#00BFFF"/>
<rect x="338" y="173" width="3" height="4" fill="#00BFFF"/>
<rect x="343" y="162" width="1" height="13" fill="#00BFFF"/>
<rect x="342" y="167" width="3" height="7" fill="#00BFFF"/>
<rect x="347" y="162" width="1" height="7" fill="#00BFFF"/>
<rect x="346" y="162" width="3" height="6" fill="#00BFFF"/>
<rect x="351" y="162" width="1" height="9" fill="#FF0000"/>
<rect x="350" y="162" width="3" height="8" fill="#FF0000"/>
<rect x="355" y="166" width="1" height="8" fill="#00BFFF"/>
<rect x="354" y="167" width="3" height="3" fill="#00BFFF"/>
<rect x="359" y="153" width="1" height="19" fill="#00BFFF"/>
<rect x="358" y="161" width="3" height="6" fill="#00BFFF"/>
<rect x="363" y="147" width="1" height="17" fill="#00BFFF"/>
<rect x="362" y="156" width="3" height="6" fill="#00BFFF"/>
<rect x="367" y="151" width="1" height="29" fill="#FF0000"/>
<rect x="366" y="156" width="3" height="21" fill="#FF0000"/>
<rect x="371" y="171" width="1" height="16" fill="#FF0000"/>
<rect x="370" y="177" width="3" height="9" fill="#FF0000"/>
<rect x="375" y="176" width="1" height="22" fill="#FF0000"/>
<rect x="374" y="185" width="3" height="13" fill="#FF0000"/>
<rect x="379" y="177" width="1" height="24" fill="#FF0000"/>
<rect x="378" y="197" width="3" height="4" fill="#FF0000"/>
<rect x="383" y="175" width="1" height="30" fill="#00BFFF"/>
<rect x="382" y="175" width="3" height="26" fill="#00BFFF"/>
<rect x="387" y="172" width="1" height="38" fill="#FF0000"/>
<rect x="386" y="175" width="3" height="25" fill="#FF0000"/>
<rect x="391" y="170" width="1" height="30" fill="#00BFFF"/>
<rect x="390" y="190" width="3" height="10" fill="#00BFFF"/>
<rect x="395" y="173" width="1" height="34" fill="#FF0000"/>
<rect x="394" y="190" width="3" height="14" fill="#FF0000"/>
<rect x="399" y="198" width="1" height="41" fill="#00BFFF"/>
<rect x="398" y="201" width="3" height="3" fill="#00BFFF"/>
<rect x="403" y="200" width="1" height="38" fill="#FF0000"/>
<rect x="402" y="201" width="3" height="32" fill="#FF0000"/>
<rect x="407" y="224" width="1" height="19" fill="#00BFFF"/>
<rect x="406" y="230" width="3" height="3" fill="#00BFFF"/>
<rect x="411" y="228" width="1" height="8" fill="#FF0000"/>
<rect x="410" y="230" width="3" height="2" fill="#FF0000"/>
<rect x="415" y="220" width="1" height="18" fill="#00BFFF"/>
<rect x="414" y="224" width="3" height="8" fill="#00BFFF"/>
<rect x="419" y="215" width="1" height="11" fill="#00BFFF"/>
<rect x="418" y="221" width="3" height="4" fill="#00BFFF"/>
<rect x="423" y="215" width="1" height="17" fill="#FF0000"/>
<rect x="422" y="222" width="3" height="8" fill="#FF0000"/>
<rect x="427" y="217" width="1" height="13" fill="#00BFFF"/>
<rect x="426" y="218" width="3" height="12" fill="#00BFFF"/>
<rect x="431" y="214" width="1" height="9" fill="#FF0000"/>
<rect x="430" y="218" width="3" height="3" fill="#FF0000"/>
<rect x="435" y="211" width="1" height="10" fill="#00BFFF"/>
<rect x="434" y="218" width="3" height="3" fill="#00BFFF"/>
<rect x="439" y="208" width="1" height="15" fill="#00BFFF"/>
<rect x="438" y="210" width="3" height="9" fill="#00BFFF"/>
<rect x="443" y="210" width="1" height="9" fill="#FF0000"/>
<rect x="442" y="210" width="3" height="3" fill="#FF0000"/>
<rect x="447" y="210" width="1" height="12" fill="#FF0000"/>
<rect x="446" y="212" width="3" height="5" fill="#FF0000"/>
<rect x="451" y="211" width="1" height="11" fill="#00BFFF"/>
<rect x="450" y="213" width="3" height="4" fill="#00BFFF"/>
<rect x="455" y="197" width="1" height="18" fill="#00BFFF"/>
<rect x="454" y="201" width="3" height="13" fill="#00BFFF"/>
<rect x="459" y="191" width="1" height="21" fill="#00BFFF"/>
<rect x="458" y="192" width="3" height="9" fill="#00BFFF"/>
<rect x="463" y="178" width="1" height="15" fill="#00BFFF"/>
<rect x="462" y="181" width="3" height="12" fill="#00BFFF"/>
<rect x="467" y="155" width="1" height="28" fill="#00BFFF"/>
<rect x="466" y="156" width="3" height="26" fill="#00BFFF"/>
<rect x="471" y="132" width="1" height="25" fill="#00BFFF"/>
<rect x="470" y="140" width="3" height="17" fill="#00BFFF"/>
<rect x="475" y="133" width="1" height="18" fill="#FF0000"/>
<rect x="474" y="140" width="3" height="3" fill="#FF0000"/>
<rect x="479" y="107" width="1" height="42" fill="#00BFFF"/>
<rect x="478" y="113" width="3" height="30" fill="#00BFFF"/>
<rect x="483" y="99" width="1" height="24" fill="#00BFFF"/>
<rect x="482" y="112" width="3" height="2" fill="#00BFFF"/>
<rect x="487" y="90" width="1" height="35" fill="#00BFFF"/>
<rect x="486" y="104" width="3" height="9" fill="#00BFFF"/>
<rect x="491" y="87" width="1" height="32" fill="#00BFFF"/>
<rect x="490" y="93" width="3" height="11" fill="#00BFFF"/>
<rect x="495" y="89" width="1" height="18" fill="#00BFFF"/>
<rect x="494" y="91" width="3" height="3" fill="#00BFFF"/>
<rect x="499" y="74" width="1" height="20" fill="#00BFFF"/>
<rect x="498" y="77" width="3" height="15" fill="#00BFFF"/>
<rect x="503" y="76" width="1" height="18" fill="#FF0000"/>
<rect x="502" y="77" width="3" height="9" fill="#FF0000"/>
<rect x="507" y="83" width="1" height="9" fill="#FF0000"/>
<rect x="506" y="86" width="3" height="4" fill="#FF0000"/>
<rect x="511" y="85" width="1" height="11" fill="#00BFFF"/>
<rect x="510" y="88" width="3" height="2" fill="#00BFFF"/>
<rect x="515" y="92" width="1" height="15" fill="#FF0000"/>
<rect x="514" y="92" width="3" height="3" fill="#FF0000"/>
<rect x="519" y="90" width="1" height="9" fill="#00BFFF"/>
<rect x="518" y="94" width="3" height="1" fill="#00BFFF"/>
<rect x="523" y="94" width="1" height="3" fill="#FF0000"/>
<rect x="522" y="95" width="3" height="2" fill="#FF0000"/>
<rect x="527" y="84" width="1" height="13" fill="#00BFFF"/>
<rect x="526" y="85" width="3" height="12" fill="#00BFFF"/>
<rect x="531" y="72" width="1" height="15" fill="#00BFFF"/>
<rect x="530" y="74" width="3" height="12" fill="#00BFFF"/>
<rect x="535" y="71" width="1" height="6" fill="#00BFFF"/>
<rect x="534" y="72" width="3" height="4" fill="#00BFFF"/>
<rect x="539" y="65" width="1" height="12" fill="#00BFFF"/>
<rect x="538" y="66" width="3" height="6" fill="#00BFFF"/>
<rect x="543" y="65" width="1" height="7" fill="#FF0000"/>
<rect x="542" y="66" width="3" height="2" fill="#FF0000"/>
<rect x="547" y="65" width="1" height="7" fill="#000"/>
<rect x="546" y="67" width="3" height="1" fill="#000"/>
<rect x="551" y="54" width="1" height="21" fill="#00BFFF"/>
<rect x="550" y="62" width="3" height="6" fill="#00BFFF"/>
<rect x="555" y="52" width="1" height="23" fill="#00BFFF"/>
<rect x="554" y="58" width="3" height="4" fill="#00BFFF"/>
<rect x="559" y="31" width="1" height="33" fill="#00BFFF"/>
<rect x="558" y="37" width="3" height="21" fill="#00BFFF"/>
<rect x="563" y="23" width="1" height="32" fill="#00BFFF"/>
<rect x="562" y="24" width="3" height="14" fill="#00BFFF"/>
<rect x="567" y="20" width="1" height="15" fill="#FF0000"/>
<rect x="566" y="24" width="3" height="5" fill="#FF0000"/>
<rect x="571" y="26" width="1" height="19" fill="#FF0000"/>
<rect x="570" y="28" width="3" height="4" fill="#FF0000"/>
<rect x="575" y="25" width="1" height="20" fill="#FF0000"/>
<rect x="574" y="32" width="3" height="12" fill="#FF0000"/>
<rect x="579" y="28" width="1" height="30" fill="#00BFFF"/>
<rect x="578" y="30" width="3" height="14" fill="#00BFFF"/>
<rect x="583" y="30" width="1" height="90" fill="#FF0000"/>
<rect x="582" y="30" width="3" height="90" fill="#FF0000"/>
<rect x="587" y="116" width="1" height="65" fill="#FF0000"/>
<rect x="586" y="119" width="3" height="51" fill="#FF0000"/>
<rect x="591" y="162" width="1" height="25" fill="#00BFFF"/>
<rect x="590" y="168" width="3" height="2" fill="#00BFFF"/>
<rect x="595" y="162" width="1" height="15" fill="#FF0000"/>
<rect x="594" y="168" width="3" height="7" fill="#FF0000"/>
<rect x="599" y="168" width="1" height="14" fill="#FF0000"/>
<rect x="598" y="173" width="3" height="9" fill="#FF0000"/>
<rect x="603" y="175" width="1" height="19" fill="#FF0000"/>
<rect x="602" y="180" width="3" height="12" fill="#FF0000"/>
<rect x="607" y="181" width="1" height="15" fill="#00BFFF"/>
<rect x="606" y="181" width="3" height="11" fill="#00BFFF"/>
<rect x="611" y="179" width="1" height="14" fill="#FF0000"/>
<rect x="610" y="181" width="3" height="4" fill="#FF0000"/>
<rect x="615" y="174" width="1" height="11" fill="#00BFFF"/>
<rect x="614" y="178" width="3" height="6" fill="#00BFFF"/>
<rect x="619" y="176" width="1" height="13" fill="#FF0000"/>
<rect x="618" y="178" width="3" height="9" fill="#FF0000"/>
<rect x="623" y="185" width="1" height="13" fill="#FF0000"/>
<rect x="622" y="186" width="3" height="6" fill="#FF0000"/>
<rect x="627" y="185" width="1" height="10" fill="#00BFFF"/>
<rect x="626" y="185" width="3" height="8" fill="#00BFFF"/>
<rect x="631" y="175" width="1" height="12" fill="#00BFFF"/>
<rect x="630" y="182" width="3" height="4" fill="#00BFFF"/>
<rect x="635" y="173" width="1" height="11" fill="#00BFFF"/>
<rect x="634" y="173" width="3" height="10" fill="#00BFFF"/>
<rect x="639" y="169" width="1" height="9" fill="#FF0000"/>
<rect x="638" y="173" width="3" height="3" fill="#FF0000"/>
<rect x="643" y="171" width="1" height="12" fill="#00BFFF"/>
<rect x="642" y="171" width="3" height="5" fill="#00BFFF"/>
<rect x="647" y="129" width="1" height="44" fill="#00BFFF"/>
<rect x="646" y="130" width="3" height="42" fill="#00BFFF"/>
<rect x="651" y="87" width="1" height="47" fill="#00BFFF"/>
<rect x="650" y="89" width="3" height="41" fill="#00BFFF"/>
<rect x="655" y="55" width="1" height="35" fill="#00BFFF"/>
<rect x="654" y="59" width="3" height="31" fill="#00BFFF"/>
<rect x="659" y="51" width="1" height="12" fill="#00BFFF"/>
<rect x="658" y="55" width="3" height="5" fill="#00BFFF"/>
<rect x="663" y="50" width="1" height="22" fill="#FF0000"/>
<rect x="662" y="55" width="3" height="8" fill="#FF0000"/>
<rect x="667" y="48" width="1" height="20" fill="#00BFFF"/>
<rect x="666" y="48" width="3" height="15" fill="#00BFFF"/>
<rect x="2" y="2" width="693" height="1" fill="#000"/>
<rect x="2" y="353" width="693" height="1" fill="#000"/>
<rect x="2" y="2" width="1" height="352" fill="#000"/>
<rect x="694" y="2" width="1" height="352" fill="#000"/>
<rect x="2" y="355" width="693" height="1" fill="#000"/>
<rect x="2" y="479" width="693" height="1" fill="#000"/>
<rect x="2" y="355" width="1" height="125" fill="#000"/>
<rect x="694" y="355" width="1" height="125" fill="#000"/>
<rect x="2" y="423" width="3" height="7" fill="#008000"/>
<rect x="6" y="423" width="3" height="6" fill="#008000"/>
<rect x="10" y="423" width="3" height="14" fill="#FF0000"/>
<rect x="14" y="423" width="3" height="19" fill="#FF0000"/>
<rect x="18" y="423" width="3" height="21" fill="#FF0000"/>
<rect x="22" y="423" width="3" height="21" fill="#FF0000"/>
<rect x="26" y="423" width="3" height="21" fill="#008000"/>
<rect x="30" y="423" width="3" height="19" fill="#008000"/>
<rect x="34" y="423" width="3" height="19" fill="#008000"/>
<rect x="38" y="423" width="3" height="19" fill="#FF0000"/>
<rect x="42" y="423" width="3" height="20" fill="#FF0000"/>
<rect x="46" y="423" width="3" height="18" fill="#008000"/>
<rect x="50" y="423" width="3" height="14" fill="#008000"/>
<rect x="54" y="423" width="3" height="10" fill="#008000"/>
<rect x="58" y="423" width="3" height="8" fill="#008000"/>
<rect x="62" y="423" width="3" height="6" fill="#008000"/>
<rect x="66" y="423" width="3" height="3" fill="#008000"/>
<rect x="70" y="423" width="3" height="3" fill="#FF0000"/>
<rect x="74" y="423" width="3" height="4" fill="#FF0000"/>
<rect x="78" y="423" width="3" height="3" fill="#008000"/>
<rect x="82" y="423" width="3" height="2" fill="#FF0000"/>
<rect x="86" y="423" width="3" height="9" fill="#FF0000"/>
<rect x="90" y="423" width="3" height="12" fill="#FF0000"/>
<rect x="94" y="423" width="3" height="17" fill="#FF0000"/>
<rect x="98" y="423" width="3" height="23" fill="#FF0000"/>
<rect x="102" y="423" width="3" height="21" fill="#008000"/>
<rect x="106" y="423" width="3" height="25" fill="#FF0000"/>
<rect x="110" y="423" width="3" height="30" fill="#FF0000"/>
<rect x="114" y="423" width="3" height="43" fill="#FF0000"/>
<rect x="118" y="423" width="3" height="46" fill="#FF0000"/>
<rect x="122" y="423" width="3" height="49" fill="#FF0000"/>
<rect x="126" y="423" width="3" height="51" fill="#FF0000"/>
<rect x="130" y="423" width="3" height="50" fill="#008000"/>
<rect x="134" y="423" width="3" height="48" fill="#008000"/>
<rect x="138" y="423" width="3" height="46" fill="#008000"/>
<rect x="142" y="423" width="3" height="41" fill="#008000"/>
<rect x="146" y="423" width="3" height="37" fill="#008000"/>
<rect x="150" y="423" width="3" height="31" fill="#008000"/>
<rect x="154" y="423" width="3" height="25" fill="#008000"/>
<rect x="158" y="423" width="3" height="22" fill="#008000"/>
<rect x="162" y="423" width="3" height="18" fill="#008000"/>
<rect x="166" y="423" width="3" height="17" fill="#008000"/>
<rect x="170" y="423" width="3" height="17" fill="#FF0000"/>
<rect x="174" y="423" width="3" height="18" fill="#FF0000"/>
<rect x="178" y="423" width="3" height="23" fill="#FF0000"/>
<rect x="182" y="423" width="3" height="25" fill="#FF0000"/>
<rect x="186" y="423" width="3" height="23" fill="#008000"/>
<rect x="190" y="423" width="3" height="17" fill="#008000"/>
<rect x="194" y="423" width="3" height="14" fill="#008000"/>
<rect x="198" y="423" width="3" height="12" fill="#008000"/>
<rect x="202" y="423" width="3" height="2" fill="#008000"/>
<rect x="206" y="408" width="3" height="15" fill="#008000"/>
<rect x="210" y="396" width="3" height="27" fill="#008000"/>
<rect x="214" y="390" width="3" height="33" fill="#008000"/>
<rect x="218" y="381" width="3" height="42" fill="#008000"/>
<rect x="222" y="380" width="3" height="43" fill="#008000"/>
<rect x="226" y="377" width="3" height="46" fill="#008000"/>
<rect x="230" y="380" width="3" height="43" fill="#FF0000"/>
<rect x="234" y="382" width="3" height="41" fill="#FF0000"/>
<rect x="238" y="386" width="3" height="37" fill="#FF0000"/>
<rect x="242" y="388" width="3" height="35" fill="#FF0000"/>
<rect x="246" y="390" width="3" height="33" fill="#FF0000"/>
<rect x="250" y="394" width="3" height="29" fill="#FF0000"/>
<rect x="254" y="396" width="3" height="27" fill="#FF0000"/>
<rect x="258" y="399" width="3" height="24" fill="#FF0000"/>
<rect x="262" y="398" width="3" height="25" fill="#008000"/>
<rect x="266" y="398" width="3" height="25" fill="#008000"/>
<rect x="270" y="391" width="3" height="32" fill="#008000"/>
<rect x="274" y="385" width="3" height="38" fill="#008000"/>
<rect x="278" y="380" width="3" height="43" fill="#008000"/>
<rect x="282" y="377" width="3" height="46" fill="#008000"/>
<rect x="286" y="377" width="3" height="46" fill="#008000"/>
<rect x="290" y="384" width="3" height="39" fill="#FF0000"/>
<rect x="294" y="394" width="3" height="29" fill="#FF0000"/>
<rect x="298" y="398" width="3" height="25" fill="#FF0000"/>
<rect x="302" y="398" width="3" height="25" fill="#FF0000"/>
<rect x="306" y="397" width="3" height="26" fill="#008000"/>
<rect x="310" y="395" width="3" height="28" fill="#008000"/>
<rect x="314" y="398" width="3" height="25" fill="#FF0000"/>
<rect x="318" y="394" width="3" height="29" fill="#008000"/>
<rect x="322" y="395" width="3" height="28" fill="#FF0000"/>
<rect x="326" y="397" width="3" height="26" fill="#FF0000"/>
<rect x="330" y="398" width="3" height="25" fill="#FF0000"/>
<rect x="334" y="400" width="3" height="23" fill="#FF0000"/>
<rect x="338" y="401" width="3" height="22" fill="#FF0000"/>
<rect x="342" y="401" width="3" height="22" fill="#008000"/>
<rect x="346" y="401" width="3" height="22" fill="#008000"/>
<rect x="350" y="402" width="3" height="21" fill="#FF0000"/>
<rect x="354" y="403" width="3" height="20" fill="#FF0000"/>
<rect x="358" y="403" width="3" height="20" fill="#008000"/>
<rect x="362" y="401" width="3" height="22" fill="#008000"/>
<rect x="366" y="406" width="3" height="17" fill="#FF0000"/>
<rect x="370" y="411" width="3" height="12" fill="#FF0000"/>
<rect x="374" y="418" width="3" height="5" fill="#FF0000"/>
<rect x="378" y="422" width="3" height="1" fill="#FF0000"/>
<rect x="382" y="420" width="3" height="3" fill="#008000"/>
<rect x="386" y="423" width="3" height="2" fill="#FF0000"/>
<rect x="390" y="423" width="3" height="2" fill="#FF0000"/>
<rect x="394" y="423" width="3" height="5" fill="#FF0000"/>
<rect x="398" y="423" width="3" height="7" fill="#FF0000"/>
<rect x="402" y="423" width="3" height="15" fill="#FF0000"/>
<rect x="406" y="423" width="3" height="20" fill="#FF0000"/>
<rect x="410" y="423" width="3" height="23" fill="#FF0000"/>
<rect x="414" y="423" width="3" height="22" fill="#008000"/>
<rect x="418" y="423" width="3" height="21" fill="#008000"/>
<rect x="422" y="423" width="3" height="20" fill="#FF0000"/>
<rect x="426" y="423" width="3" height="19" fill="#008000"/>
<rect x="430" y="423" width="3" height="17" fill="#008000"/>
<rect x="434" y="423" width="3" height="16" fill="#008000"/>
<rect x="438" y="423" width="3" height="12" fill="#008000"/>
<rect x="442" y="423" width="3" height="11" fill="#008000"/>
<rect x="446" y="423" width="3" height="11" fill="#FF0000"/>
<rect x="450" y="423" width="3" height="9" fill="#008000"/>
<rect x="454" y="423" width="3" height="5" fill="#008000"/>
<rect x="458" y="423" width="3" height="1" fill="#008000"/>
<rect x="462" y="417" width="3" height="6" fill="#008000"/>
<rect x="466" y="407" width="3" height="16" fill="#008000"/>
<rect x="470" y="398" width="3" height="25" fill="#008000"/>
<rect x="474" y="393" width="3" height="30" fill="#008000"/>
<rect x="478" y="383" width="3" height="40" fill="#008000"/>
<rect x="482" y="378" width="3" height="45" fill="#008000"/>
<rect x="486" y="373" width="3" height="50" fill="#008000"/>
<rect x="490" y="368" width="3" height="55" fill="#008000"/>
<rect x="494" y="366" width="3" height="57" fill="#008000"/>
<rect x="498" y="362" width="3" height="61" fill="#008000"/>
<rect x="502" y="363" width="3" height="60" fill="#FF0000"/>
<rect x="506" y="366" width="3" height="57" fill="#FF0000"/>
<rect x="510" y="368" width="3" height="55" fill="#FF0000"/>
<rect x="514" y="372" width="3" height="51" fill="#FF0000"/>
<rect x="518" y="376" width="3" height="47" fill="#FF0000"/>
<rect x="522" y="379" width="3" height="44" fill="#FF0000"/>
<rect x="526" y="380" width="3" height="43" fill="#FF0000"/>
<rect x="530" y="378" width="3" height="45" fill="#008000"/>
<rect x="534" y="377" width="3" height="46" fill="#008000"/>
<rect x="538" y="376" width="3" height="47" fill="#008000"/>
<rect x="542" y="377" width="3" height="46" fill="#FF0000"/>
<rect x="546" y="378" width="3" height="45" fill="#FF0000"/>
<rect x="550" y="378" width="3" height="45" fill="#FF0000"/>
<rect x="554" y="379" width="3" height="44" fill="#FF0000"/>
<rect x="558" y="374" width="3" height="49" fill="#008000"/>
<rect x="562" y="369" width="3" height="54" fill="#008000"/>
<rect x="566" y="368" width="3" height="55" fill="#008000"/>
<rect x="570" y="369" width="3" height="54" fill="#FF0000"/>
<rect x="574" y="374" width="3" height="49" fill="#FF0000"/>
<rect x="578" y="375" width="3" height="48" fill="#FF0000"/>
<rect x="582" y="398" width="3" height="25" fill="#FF0000"/>
<rect x="586" y="423" width="3" height="3" fill="#FF0000"/>
<rect x="590" y="423" width="3" height="20" fill="#FF0000"/>
<rect x="594" y="423" width="3" height="32" fill="#FF0000"/>
<rect x="598" y="423" width="3" height="40" fill="#FF0000"/>
<rect x="602" y="423" width="3" height="47" fill="#FF0000"/>
<rect x="606" y="423" width="3" height="48" fill="#FF0000"/>
<rect x="610" y="423" width="3" height="49" fill="#FF0000"/>
<rect x="614" y="423" width="3" height="47" fill="#008000"/>
<rect x="618" y="423" width="3" height="47" fill="#008000"/>
<rect x="622" y="423" width="3" height="47" fill="#FF0000"/>
<rect x="626" y="423" width="3" height="45" fill="#008000"/>
<rect x="630" y="423" width="3" height="42" fill="#008000"/>
<rect x="634" y="423" width="3" height="37" fill="#008000"/>
<rect x="638" y="423" width="3" height="34" fill="#008000"/>
<rect x="642" y="423" width="3" height="30" fill="#008000"/>
<rect x="646" y="423" width="3" height="17" fill="#008000"/>
<rect x="650" y="421" width="3" height="2" fill="#008000"/>
<rect x="654" y="402" width="3" height="21" fill="#008000"/>
<rect x="658" y="390" width="3" height="33" fill="#008000"/>
<rect x="662" y="384" width="3" height="39" fill="#008000"/>
<polyline points="2.9,433 6,431.2 12.8,431.2 17.2,433.7 20.9,436.8 25.9,440.5 30.9,442 43.3,442 49.5,440.5 55.7,438 63.2,433.4 69.4,428.7 75.6,426.8 83,425.2 88,426.8 93,429.7 97.4,433.7 105,441 115,451 122.3,460.4 129.8,469.7 134.8,471.2 139.7,471.2 147.2,467.9 154.7,459.8 162,449.8 169.6,443 177,441.1 182.4,441.7 189.9,443.4 197.3,440.5 203.5,434.9 209.8,422.5 216.8,404.8 223,391.1 229.2,383 234.2,380.6 240.4,381.2 246.7,384.3 254,390.5 261.6,394.3 269,397.4 272.5,394.9 280,389.7 287.4,381.8 293.6,381.5 301,388 308.5,394.9 313.5,397.4 323.5,396.8 332.2,397.4 342,399.9 357,401.7 366.7,403 373,406.2 380.4,412.4 387.8,419.3 395.3,423.4 401.5,427.6 407.7,434.2 415.2,440.4 420.2,442.9 427.6,443.5 435,441.6 445,436 453,432.8 461,427.2 466.6,422 473,411.6 479.4,400.8 484.5,393 492,378.7 499.5,369.3 504.4,365.6 513,365.2 520.6,369.3 528,374.3 533,376.8 536.5,378 553.9,378.4 562.6,376.2 570,372.2 578.8,371.4 582.5,374.3 587.5,384.9 592.4,404.8 596.2,422.2 598.7,432.4 603.6,447.3 609.9,461 614.8,467.2 621,469.7 627.3,468.5 636,464.1 644.7,456 651,445.5 655.9,433.7 659.6,422.5 662,413 665,402 667.5,396" fill="none" stroke="#B0B0B0" stroke-width="1" shape-rendering="crispEdges"/>
<rect x="2" y="2" width="693" height="1" fill="#000"/>
<rect x="2" y="353" width="693" height="1" fill="#000"/>
<rect x="2" y="2" width="1" height="352" fill="#000"/>
<rect x="694" y="2" width="1" height="352" fill="#000"/>
<rect x="2" y="355" width="693" height="1" fill="#000"/>
<rect x="2" y="479" width="693" height="1" fill="#000"/>
<rect x="2" y="355" width="1" height="125" fill="#000"/>
<rect x="694" y="355" width="1" height="125" fill="#000"/>
<rect x="695" y="53" width="2" height="1" fill="#000"/>
<rect x="695" y="86" width="2" height="1" fill="#000"/>
<rect x="695" y="119" width="2" height="1" fill="#000"/>
<rect x="695" y="152" width="2" height="1" fill="#000"/>
<rect x="695" y="185" width="2" height="1" fill="#000"/>
<rect x="695" y="218" width="2" height="1" fill="#000"/>
<rect x="695" y="251" width="2" height="1" fill="#000"/>
<rect x="695" y="284" width="2" height="1" fill="#000"/>
<rect x="695" y="317" width="2" height="1" fill="#000"/>
<rect x="695" y="350" width="2" height="1" fill="#000"/>
<rect x="695" y="19" width="1" height="1" fill="#000"/>
<rect x="696" y="14" width="41" height="11" fill="#FF0000"/>
<rect x="695" y="48" width="1" height="1" fill="#000"/>
<rect x="696" y="43" width="41" height="11" fill="#000"/>
<rect x="695" y="197" width="1" height="1" fill="#000"/>
<rect x="696" y="192" width="41" height="11" fill="#FF0000"/>
<rect x="695" y="273" width="1" height="1" fill="#000"/>
<rect x="696" y="268" width="41" height="11" fill="#FF0000"/>
<rect x="695" y="342" width="1" height="1" fill="#000"/>
<rect x="696" y="337" width="41" height="11" fill="#FF0000"/>
<rect x="695" y="357" width="2" height="1" fill="#000"/>
<rect x="695" y="423" width="2" height="1" fill="#000"/>
<rect x="695" y="478" width="2" height="1" fill="#000"/>
<rect x="3" y="480" width="1" height="3" fill="#000"/>
<rect x="67" y="480" width="1" height="3" fill="#000"/>
<rect x="131" y="480" width="1" height="3" fill="#000"/>
<rect x="195" y="480" width="1" height="3" fill="#000"/>
<rect x="259" y="480" width="1" height="3" fill="#000"/>
<rect x="323" y="480" width="1" height="3" fill="#000"/>
<rect x="387" y="480" width="1" height="3" fill="#000"/>
<rect x="451" y="480" width="1" height="3" fill="#000"/>
<rect x="515" y="480" width="1" height="3" fill="#000"/>
<rect x="579" y="480" width="1" height="3" fill="#000"/>
<rect x="643" y="480" width="1" height="3" fill="#000"/>
<polygon points="6,9 13,9 9.5,13" fill="#000"/>
</g>
<text transform="translate(699.8,57) scale(0.815,0.95)" fill="#000" stroke="#000" stroke-width="0.15" letter-spacing="0.6" font-size="10">0.99985</text>
<text transform="translate(699.8,90) scale(0.815,0.95)" fill="#000" stroke="#000" stroke-width="0.15" letter-spacing="0.6" font-size="10">0.99810</text>
<text transform="translate(699.8,123) scale(0.815,0.95)" fill="#000" stroke="#000" stroke-width="0.15" letter-spacing="0.6" font-size="10">0.99630</text>
<text transform="translate(699.8,156) scale(0.815,0.95)" fill="#000" stroke="#000" stroke-width="0.15" letter-spacing="0.6" font-size="10">0.99455</text>
<text transform="translate(699.8,189) scale(0.815,0.95)" fill="#000" stroke="#000" stroke-width="0.15" letter-spacing="0.6" font-size="10">0.99275</text>
<text transform="translate(699.8,222) scale(0.815,0.95)" fill="#000" stroke="#000" stroke-width="0.15" letter-spacing="0.6" font-size="10">0.99100</text>
<text transform="translate(699.8,255) scale(0.815,0.95)" fill="#000" stroke="#000" stroke-width="0.15" letter-spacing="0.6" font-size="10">0.98925</text>
<text transform="translate(699.8,288) scale(0.815,0.95)" fill="#000" stroke="#000" stroke-width="0.15" letter-spacing="0.6" font-size="10">0.98745</text>
<text transform="translate(699.8,321) scale(0.815,0.95)" fill="#000" stroke="#000" stroke-width="0.15" letter-spacing="0.6" font-size="10">0.98570</text>
<text transform="translate(699.8,354) scale(0.815,0.95)" fill="#000" stroke="#000" stroke-width="0.15" letter-spacing="0.6" font-size="10">0.98395</text>
<text transform="translate(700.6,23) scale(0.815,0.95)" fill="#fff" stroke="#fff" stroke-width="0.15" letter-spacing="0.6" font-size="10">1.00161</text>
<text transform="translate(700.6,52) scale(0.815,0.95)" fill="#fff" stroke="#fff" stroke-width="0.15" letter-spacing="0.6" font-size="10">1.00010</text>
<text transform="translate(699.8,201) scale(0.815,0.95)" fill="#fff" stroke="#fff" stroke-width="0.15" letter-spacing="0.6" font-size="10">0.99208</text>
<text transform="translate(699.8,277) scale(0.815,0.95)" fill="#fff" stroke="#fff" stroke-width="0.15" letter-spacing="0.6" font-size="10">0.98801</text>
<text transform="translate(699.8,346) scale(0.815,0.95)" fill="#fff" stroke="#fff" stroke-width="0.15" letter-spacing="0.6" font-size="10">0.98432</text>
<text transform="translate(698,366) scale(0.815,0.95)" fill="#000" stroke="#000" stroke-width="0.15" letter-spacing="0.6" font-size="10">0.0040310</text>
<text transform="translate(698,427) scale(0.815,0.95)" fill="#000" stroke="#000" stroke-width="0.15" letter-spacing="0.6" font-size="10">0.00</text>
<text transform="translate(698,476) scale(0.815,0.95)" fill="#000" stroke="#000" stroke-width="0.15" letter-spacing="0.6" font-size="10">-0.0033467</text>
<text transform="translate(2.3,492) scale(0.815,0.95)" fill="#000" stroke="#000" stroke-width="0.15" letter-spacing="0.6" font-size="10">23 Sep 2019</text>
<text transform="translate(66.3,492) scale(0.815,0.95)" fill="#000" stroke="#000" stroke-width="0.15" letter-spacing="0.6" font-size="10">24 Sep 06:00</text>
<text transform="translate(130.3,492) scale(0.815,0.95)" fill="#000" stroke="#000" stroke-width="0.15" letter-spacing="0.6" font-size="10">24 Sep 22:00</text>
<text transform="translate(194.3,492) scale(0.815,0.95)" fill="#000" stroke="#000" stroke-width="0.15" letter-spacing="0.6" font-size="10">25 Sep 14:00</text>
<text transform="translate(258.3,492) scale(0.815,0.95)" fill="#000" stroke="#000" stroke-width="0.15" letter-spacing="0.6" font-size="10">26 Sep 06:00</text>
<text transform="translate(322.3,492) scale(0.815,0.95)" fill="#000" stroke="#000" stroke-width="0.15" letter-spacing="0.6" font-size="10">26 Sep 22:00</text>
<text transform="translate(386.3,492) scale(0.815,0.95)" fill="#000" stroke="#000" stroke-width="0.15" letter-spacing="0.6" font-size="10">27 Sep 14:00</text>
<text transform="translate(450.3,492) scale(0.815,0.95)" fill="#000" stroke="#000" stroke-width="0.15" letter-spacing="0.6" font-size="10">30 Sep 07:00</text>
<text transform="translate(514.3,492) scale(0.815,0.95)" fill="#000" stroke="#000" stroke-width="0.15" letter-spacing="0.6" font-size="10">30 Sep 23:00</text>
<text transform="translate(578.3,492) scale(0.815,0.95)" fill="#000" stroke="#000" stroke-width="0.15" letter-spacing="0.6" font-size="10">1 Oct 15:00</text>
<text transform="translate(642.3,492) scale(0.815,0.95)" fill="#000" stroke="#000" stroke-width="0.15" letter-spacing="0.6" font-size="10">2 Oct 07:00</text>
<text transform="translate(18.2,14) scale(0.8876,0.95)" fill="#000" stroke="#000" stroke-width="0.08" letter-spacing="0.6" font-size="10">USDCHF,H1</text>
<text transform="translate(79.0,14) scale(0.8125,0.95)" fill="#000" stroke="#000" stroke-width="0.08" letter-spacing="0.6" font-size="10">0.99934</text>
<text transform="translate(115.0,14) scale(0.8125,0.95)" fill="#000" stroke="#000" stroke-width="0.08" letter-spacing="0.6" font-size="10">1.00010</text>
<text transform="translate(151.2,14) scale(0.8268,0.95)" fill="#000" stroke="#000" stroke-width="0.08" letter-spacing="0.6" font-size="10">0.99911</text>
<text transform="translate(187.6,14) scale(0.8025,0.95)" fill="#000" stroke="#000" stroke-width="0.08" letter-spacing="0.6" font-size="10">1.00010</text>
<text transform="translate(7.6,368) scale(0.8342,0.95)" fill="#000" stroke="#000" stroke-width="0.08" letter-spacing="0.6" font-size="10">MACD_color(5,34,5)</text>
<text transform="translate(95.4,368) scale(0.7837,0.95)" fill="#000" stroke="#000" stroke-width="0.08" letter-spacing="0.6" font-size="10">0.00000000</text>
<text transform="translate(146.4,368) scale(0.7922,0.95)" fill="#000" stroke="#000" stroke-width="0.08" letter-spacing="0.6" font-size="10">0.00000000</text>
<text transform="translate(197.3,368) scale(0.8075,0.95)" fill="#000" stroke="#000" stroke-width="0.08" letter-spacing="0.6" font-size="10">0.00170804</text>
</svg>
</body></html>
